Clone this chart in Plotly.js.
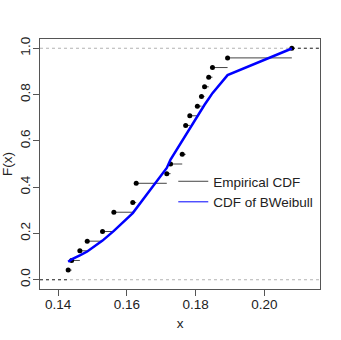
<!DOCTYPE html>
<html>
<head>
<meta charset="utf-8">
<script src="https://cdn.plot.ly/plotly-3.0.1.min.js"></script>
<style>
  html, body { margin: 0; padding: 0; background: #fff; }
  #plot { width: 341px; height: 340px; }
</style>
</head>
<body>
<div id="plot"></div>
<script>
// sorted distinct sample values (knots of the empirical CDF)
const knots = [0.1429, 0.1439, 0.1463, 0.14845, 0.1529, 0.1562, 0.1617, 0.1627,
  0.1716, 0.1727, 0.1761, 0.1771, 0.1783, 0.1805, 0.1817, 0.1826, 0.1838,
  0.1849, 0.1893, 0.2080]
// how many observations sit at each knot (ties)
const tieCounts = [1, 1, 1, 1, 1, 2, 1, 2, 1, 1, 1, 3, 1, 1, 1, 1, 1, 1, 1, 1]
// fitted BWeibull CDF at the same knots
const fittedCdf = [0.078, 0.088, 0.105, 0.122, 0.169, 0.211, 0.288, 0.308,
  0.483, 0.519, 0.602, 0.627, 0.656, 0.71, 0.736, 0.756, 0.782,
  0.806, 0.884, 0.999]

const xTicks = [0.14, 0.16, 0.18, 0.20]
const yTicks = [0.0, 0.2, 0.4, 0.6, 0.8, 1.0]
const xRange = [0.1347, 0.2162]
const yRange = [-0.04, 1.04]

const n = tieCounts.reduce((a, b) => a + b, 0)
let ecdf = []
let run = 0
for (let i = 0; i < tieCounts.length; i++) {
  run += tieCounts[i]
  ecdf.push(run / n)
}

// horizontal steps, no verticals
let stepX = []
let stepY = []
for (let i = 0; i < knots.length - 1; i++) {
  stepX.push(knots[i], knots[i + 1], null)
  stepY.push(ecdf[i], ecdf[i], null)
}

const font = 'Liberation Sans, Arial, Helvetica, sans-serif'

var traces = [
  {
    x: [xRange[0], knots[0], null, knots[knots.length - 1], xRange[1]],
    y: [0, 0, null, 1, 1],
    mode: 'lines',
    line: {color: '#333', width: 1, dash: '3px,3px'},
    showlegend: false,
    hoverinfo: 'skip'
  },
  {
    x: stepX,
    y: stepY,
    mode: 'lines',
    line: {color: '#444', width: 1},
    name: 'Empirical CDF',
    connectgaps: false
  },
  {
    x: knots,
    y: ecdf,
    mode: 'markers',
    marker: {color: '#000', size: 5},
    showlegend: false
  },
  {
    x: knots,
    y: fittedCdf,
    mode: 'lines',
    line: {color: '#0000ff', width: 2.5},
    showlegend: false
  },
  {
    // legend entry only
    x: [null],
    y: [null],
    mode: 'lines',
    line: {color: '#0000ff', width: 1},
    name: 'CDF of BWeibull'
  }
]

var layout = {
  width: 341,
  height: 340,
  margin: {l: 40, r: 21, t: 39, b: 51},
  paper_bgcolor: '#fff',
  plot_bgcolor: '#fff',
  font: {family: font, size: 13, color: '#222'},
  showlegend: true,
  legend: {
    x: 0.476, y: 0.492, xanchor: 'left', yanchor: 'top',
    bgcolor: 'rgba(0,0,0,0)', borderwidth: 0,
    font: {family: font, size: 13.5, color: '#222'},
    tracegroupgap: 0
  },
  xaxis: {
    range: xRange,
    tickvals: xTicks,
    ticktext: xTicks.map(v => v.toFixed(2)),
    ticks: 'outside', ticklen: 6, tickcolor: '#555',
    ticklabelstandoff: -3,
    showline: true, linecolor: '#555', mirror: true, linewidth: 1,
    showgrid: false, zeroline: false,
    tickfont: {family: font, size: 13.5, color: '#222'},
    title: {text: 'x', font: {family: font, size: 13.5, color: '#222'}, standoff: 7}
  },
  yaxis: {
    range: yRange,
    tickvals: yTicks,
    ticktext: yTicks.map(v => v.toFixed(1)),
    tickangle: -90,
    ticks: 'outside', ticklen: 6, tickcolor: '#555',
    ticklabelstandoff: -2,
    showline: true, linecolor: '#555', mirror: true, linewidth: 1,
    showgrid: false, zeroline: false,
    tickfont: {family: font, size: 13.5, color: '#222'},
    title: {text: 'F(x)', font: {family: font, size: 13.5, color: '#222'}, standoff: 4}
  },
  shapes: [0, 1].map(v => ({
    type: 'line', xref: 'paper', x0: 0, x1: 1, yref: 'y', y0: v, y1: v,
    line: {color: '#b3b3b3', width: 1, dash: '3px,3px'},
    layer: 'below'
  }))
}

Plotly.newPlot('plot', traces, layout, {displayModeBar: false, staticPlot: true})
</script>
</body>
</html>
